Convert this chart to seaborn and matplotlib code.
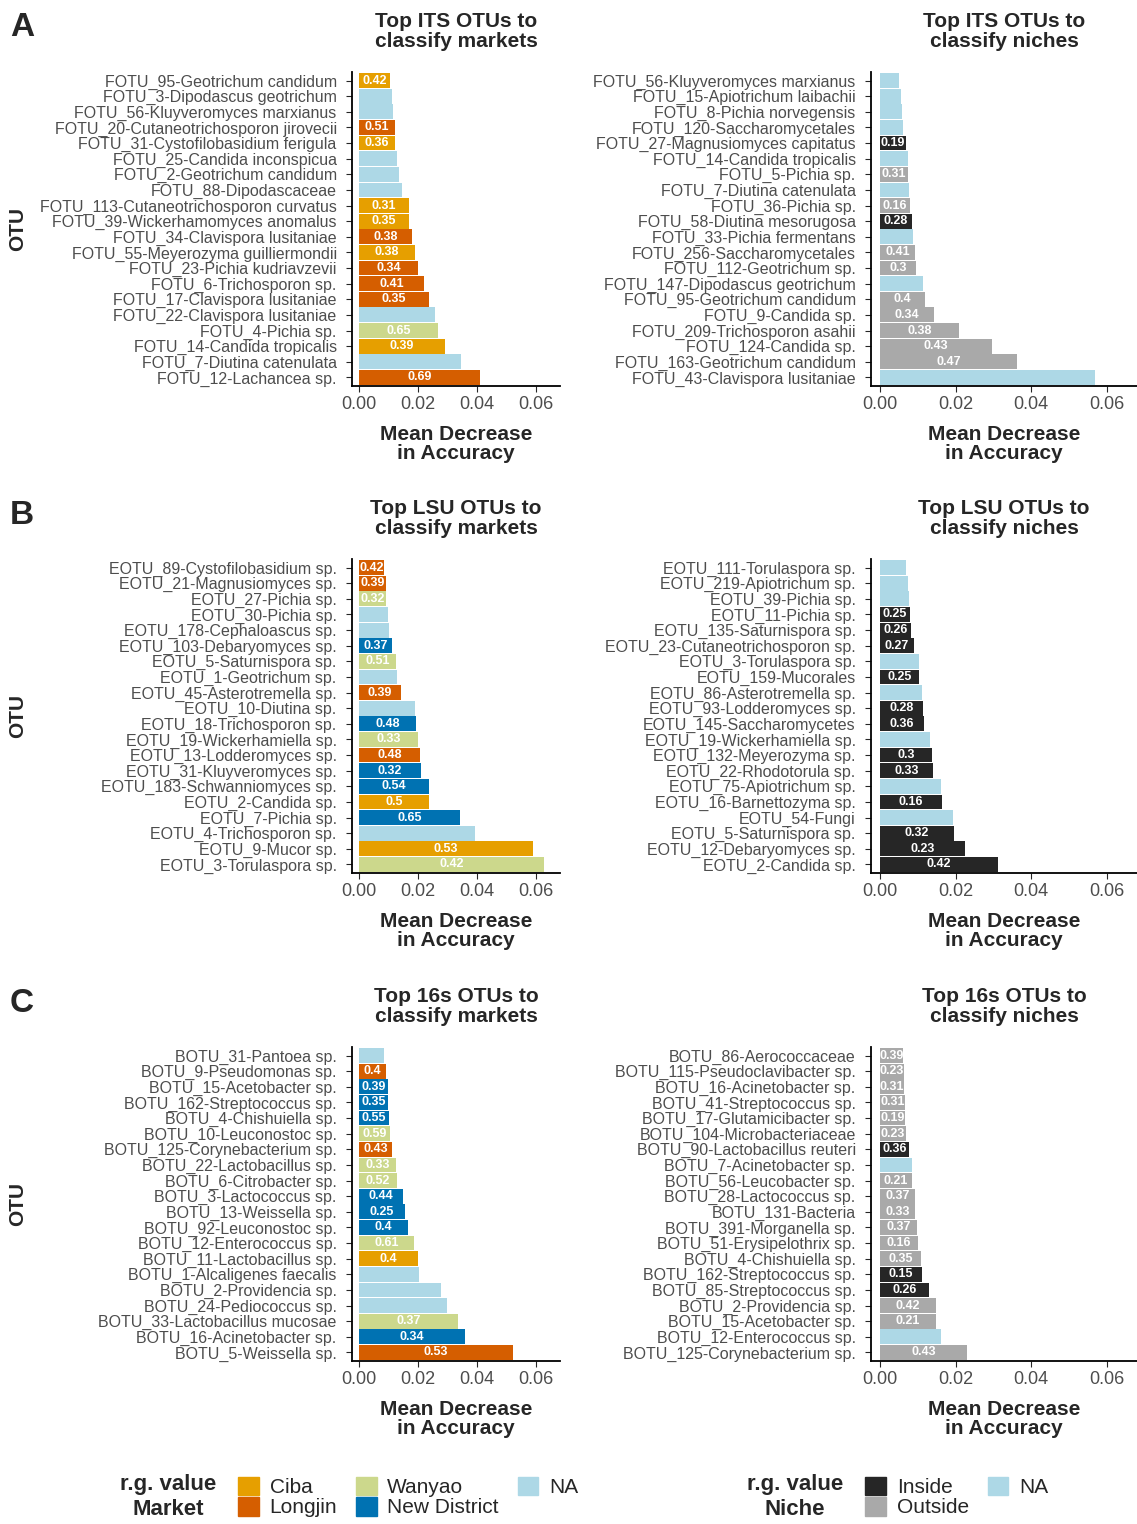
import numpy as np
import pandas as pd
import matplotlib
matplotlib.use("Agg")
import matplotlib.pyplot as plt
import seaborn as sns
from matplotlib.patches import Patch

sns.set_style("ticks")
plt.rcParams['font.family'] = ['Liberation Sans', 'DejaVu Sans']

market_colors = {'Ciba': '#E69F00', 'Longjin': '#D55E00', 'Wanyao': '#CCD88C',
                 'New District': '#0072B2', 'NA': '#ADD8E6'}
niche_colors = {'Inside': '#262626', 'Outside': '#A9A9A9', 'NA': '#ADD8E6'}

# ---- ITS markets
its_mk_otu = ['FOTU_95-Geotrichum candidum', 'FOTU_3-Dipodascus geotrichum', 'FOTU_56-Kluyveromyces marxianus',
              'FOTU_20-Cutaneotrichosporon jirovecii', 'FOTU_31-Cystofilobasidium ferigula', 'FOTU_25-Candida inconspicua',
              'FOTU_2-Geotrichum candidum', 'FOTU_88-Dipodascaceae', 'FOTU_113-Cutaneotrichosporon curvatus',
              'FOTU_39-Wickerhamomyces anomalus', 'FOTU_34-Clavispora lusitaniae', 'FOTU_55-Meyerozyma guilliermondii',
              'FOTU_23-Pichia kudriavzevii', 'FOTU_6-Trichosporon sp.', 'FOTU_17-Clavispora lusitaniae',
              'FOTU_22-Clavispora lusitaniae', 'FOTU_4-Pichia sp.', 'FOTU_14-Candida tropicalis',
              'FOTU_7-Diutina catenulata', 'FOTU_12-Lachancea sp.']
its_mk_val = [0.0105, 0.011, 0.0115, 0.012, 0.012, 0.013, 0.0135, 0.0145, 0.017, 0.017,
              0.018, 0.019, 0.020, 0.022, 0.0237, 0.0258, 0.0268, 0.029, 0.0346, 0.041]
its_mk_grp = ['Ciba', 'NA', 'NA', 'Longjin', 'Ciba', 'NA', 'NA', 'NA', 'Ciba', 'Ciba',
              'Longjin', 'Ciba', 'Longjin', 'Longjin', 'Longjin', 'NA', 'Wanyao', 'Ciba', 'NA', 'Longjin']
its_mk_rg = [0.42, None, None, 0.51, 0.36, None, None, None, 0.31, 0.35,
             0.38, 0.38, 0.34, 0.41, 0.35, None, 0.65, 0.39, None, 0.69]

# ---- ITS niches
its_ni_otu = ['FOTU_56-Kluyveromyces marxianus', 'FOTU_15-Apiotrichum laibachii', 'FOTU_8-Pichia norvegensis',
              'FOTU_120-Saccharomycetales', 'FOTU_27-Magnusiomyces capitatus', 'FOTU_14-Candida tropicalis',
              'FOTU_5-Pichia sp.', 'FOTU_7-Diutina catenulata', 'FOTU_36-Pichia sp.', 'FOTU_58-Diutina mesorugosa',
              'FOTU_33-Pichia fermentans', 'FOTU_256-Saccharomycetales', 'FOTU_112-Geotrichum sp.',
              'FOTU_147-Dipodascus geotrichum', 'FOTU_95-Geotrichum candidum', 'FOTU_9-Candida sp.',
              'FOTU_209-Trichosporon asahii', 'FOTU_124-Candida sp.', 'FOTU_163-Geotrichum candidum',
              'FOTU_43-Clavispora lusitaniae']
its_ni_val = [0.005, 0.0055, 0.0058, 0.006, 0.0068, 0.0074, 0.0074, 0.0076, 0.0079, 0.0084,
              0.0087, 0.0092, 0.0095, 0.0113, 0.0118, 0.0142, 0.021, 0.0297, 0.0363, 0.0568]
its_ni_grp = ['NA', 'NA', 'NA', 'NA', 'Inside', 'NA', 'Outside', 'NA', 'Outside', 'Inside',
              'NA', 'Outside', 'Outside', 'NA', 'Outside', 'Outside', 'Outside', 'Outside', 'Outside', 'NA']
its_ni_rg = [None, None, None, None, 0.19, None, 0.31, None, 0.16, 0.28,
             None, 0.41, 0.3, None, 0.4, 0.34, 0.38, 0.43, 0.47, None]

# ---- LSU markets
lsu_mk_otu = ['EOTU_89-Cystofilobasidium sp.', 'EOTU_21-Magnusiomyces sp.', 'EOTU_27-Pichia sp.', 'EOTU_30-Pichia sp.',
              'EOTU_178-Cephaloascus sp.', 'EOTU_103-Debaryomyces sp.', 'EOTU_5-Saturnispora sp.',
              'EOTU_1-Geotrichum sp.', 'EOTU_45-Asterotremella sp.', 'EOTU_10-Diutina sp.', 'EOTU_18-Trichosporon sp.',
              'EOTU_19-Wickerhamiella sp.', 'EOTU_13-Lodderomyces sp.', 'EOTU_31-Kluyveromyces sp.',
              'EOTU_183-Schwanniomyces sp.', 'EOTU_2-Candida sp.', 'EOTU_7-Pichia sp.', 'EOTU_4-Trichosporon sp.',
              'EOTU_9-Mucor sp.', 'EOTU_3-Torulaspora sp.']
lsu_mk_val = [0.0085, 0.009, 0.009, 0.0098, 0.010, 0.011, 0.0125, 0.013, 0.0142, 0.019,
              0.0193, 0.020, 0.0207, 0.021, 0.0237, 0.0237, 0.0342, 0.0393, 0.059, 0.0627]
lsu_mk_grp = ['Longjin', 'Longjin', 'Wanyao', 'NA', 'NA', 'New District', 'Wanyao', 'NA', 'Longjin', 'NA',
              'New District', 'Wanyao', 'Longjin', 'New District', 'New District', 'Ciba', 'New District', 'NA',
              'Ciba', 'Wanyao']
lsu_mk_rg = [0.42, 0.39, 0.32, None, None, 0.37, 0.51, None, 0.39, None,
             0.48, 0.33, 0.48, 0.32, 0.54, 0.5, 0.65, None, 0.53, 0.42]

# ---- LSU niches
lsu_ni_otu = ['EOTU_111-Torulaspora sp.', 'EOTU_219-Apiotrichum sp.', 'EOTU_39-Pichia sp.', 'EOTU_11-Pichia sp.',
              'EOTU_135-Saturnispora sp.', 'EOTU_23-Cutaneotrichosporon sp.', 'EOTU_3-Torulaspora sp.',
              'EOTU_159-Mucorales', 'EOTU_86-Asterotremella sp.', 'EOTU_93-Lodderomyces sp.',
              'EOTU_145-Saccharomycetes', 'EOTU_19-Wickerhamiella sp.', 'EOTU_132-Meyerozyma sp.',
              'EOTU_22-Rhodotorula sp.', 'EOTU_75-Apiotrichum sp.', 'EOTU_16-Barnettozyma sp.', 'EOTU_54-Fungi',
              'EOTU_5-Saturnispora sp.', 'EOTU_12-Debaryomyces sp.', 'EOTU_2-Candida sp.']
lsu_ni_val = [0.0068, 0.0074, 0.0076, 0.0079, 0.0082, 0.0089, 0.0103, 0.0103, 0.0111, 0.0113,
              0.0116, 0.0132, 0.0137, 0.014, 0.016, 0.0163, 0.0192, 0.0195, 0.0226, 0.0313]
lsu_ni_grp = ['NA', 'NA', 'NA', 'Inside', 'Inside', 'Inside', 'NA', 'Inside', 'NA', 'Inside',
              'Inside', 'NA', 'Inside', 'Inside', 'NA', 'Inside', 'NA', 'Inside', 'Inside', 'Inside']
lsu_ni_rg = [None, None, None, 0.25, 0.26, 0.27, None, 0.25, None, 0.28,
             0.36, None, 0.3, 0.33, None, 0.16, None, 0.32, 0.23, 0.42]

# ---- 16s markets
s16_mk_otu = ['BOTU_31-Pantoea sp.', 'BOTU_9-Pseudomonas sp.', 'BOTU_15-Acetobacter sp.', 'BOTU_162-Streptococcus sp.',
              'BOTU_4-Chishuiella sp.', 'BOTU_10-Leuconostoc sp.', 'BOTU_125-Corynebacterium sp.',
              'BOTU_22-Lactobacillus sp.', 'BOTU_6-Citrobacter sp.', 'BOTU_3-Lactococcus sp.',
              'BOTU_13-Weissella sp.', 'BOTU_92-Leuconostoc sp.', 'BOTU_12-Enterococcus sp.',
              'BOTU_11-Lactobacillus sp.', 'BOTU_1-Alcaligenes faecalis', 'BOTU_2-Providencia sp.',
              'BOTU_24-Pediococcus sp.', 'BOTU_33-Lactobacillus mucosae', 'BOTU_16-Acinetobacter sp.',
              'BOTU_5-Weissella sp.']
s16_mk_val = [0.0085, 0.009, 0.0098, 0.0098, 0.010, 0.0105, 0.011, 0.0125, 0.0129, 0.015,
              0.0156, 0.0166, 0.0186, 0.020, 0.0203, 0.0278, 0.0298, 0.0336, 0.036, 0.0522]
s16_mk_grp = ['NA', 'Longjin', 'New District', 'New District', 'New District', 'Wanyao', 'Longjin', 'Wanyao',
              'Wanyao', 'New District', 'New District', 'New District', 'Wanyao', 'Ciba', 'NA', 'NA', 'NA',
              'Wanyao', 'New District', 'Longjin']
s16_mk_rg = [None, 0.4, 0.39, 0.35, 0.55, 0.59, 0.43, 0.33, 0.52, 0.44,
             0.25, 0.4, 0.61, 0.4, None, None, None, 0.37, 0.34, 0.53]

# ---- 16s niches
s16_ni_otu = ['BOTU_86-Aerococcaceae', 'BOTU_115-Pseudoclavibacter sp.', 'BOTU_16-Acinetobacter sp.',
              'BOTU_41-Streptococcus sp.', 'BOTU_17-Glutamicibacter sp.', 'BOTU_104-Microbacteriaceae',
              'BOTU_90-Lactobacillus reuteri', 'BOTU_7-Acinetobacter sp.', 'BOTU_56-Leucobacter sp.',
              'BOTU_28-Lactococcus sp.', 'BOTU_131-Bacteria', 'BOTU_391-Morganella sp.',
              'BOTU_51-Erysipelothrix sp.', 'BOTU_4-Chishuiella sp.', 'BOTU_162-Streptococcus sp.',
              'BOTU_85-Streptococcus sp.', 'BOTU_2-Providencia sp.', 'BOTU_15-Acetobacter sp.',
              'BOTU_12-Enterococcus sp.', 'BOTU_125-Corynebacterium sp.']
s16_ni_val = [0.006, 0.0063, 0.0063, 0.0066, 0.0066, 0.0068, 0.0076, 0.0084, 0.0084, 0.0092,
              0.0092, 0.0097, 0.010, 0.0108, 0.0111, 0.0129, 0.0147, 0.0147, 0.016, 0.0231]
s16_ni_grp = ['Outside', 'Outside', 'Outside', 'Outside', 'Outside', 'Outside', 'Inside', 'NA', 'Outside',
              'Outside', 'Outside', 'Outside', 'Outside', 'Outside', 'Inside', 'Inside', 'Outside', 'Outside',
              'NA', 'Outside']
s16_ni_rg = [0.39, 0.23, 0.31, 0.31, 0.19, 0.23, 0.36, None, 0.21, 0.37,
             0.33, 0.37, 0.16, 0.35, 0.15, 0.26, 0.42, 0.21, None, 0.43]

panels = [
    ('ITS', 'markets', its_mk_otu, its_mk_val, its_mk_grp, its_mk_rg),
    ('ITS', 'niches', its_ni_otu, its_ni_val, its_ni_grp, its_ni_rg),
    ('LSU', 'markets', lsu_mk_otu, lsu_mk_val, lsu_mk_grp, lsu_mk_rg),
    ('LSU', 'niches', lsu_ni_otu, lsu_ni_val, lsu_ni_grp, lsu_ni_rg),
    ('16s', 'markets', s16_mk_otu, s16_mk_val, s16_mk_grp, s16_mk_rg),
    ('16s', 'niches', s16_ni_otu, s16_ni_val, s16_ni_grp, s16_ni_rg),
]

W, H = 1137, 1524
fig = plt.figure(figsize=(W / 100, H / 100), dpi=100)
row_tops = [72, 559, 1047]
ax_h = 314

for i, (gene, kind, otu, val, grp, rg) in enumerate(panels):
    row, col = divmod(i, 2)
    top = row_tops[row]
    if col == 0:
        x0, w = 352, 208
    else:
        x0, w = 871, 266
    ax = fig.add_axes([x0 / W, 1 - (top + ax_h) / H, w / W, ax_h / H])
    df = pd.DataFrame({'otu': otu, 'val': val, 'grp': grp})
    pal = market_colors if kind == 'markets' else niche_colors
    sns.barplot(data=df, x='val', y='otu', hue='grp', palette=pal, dodge=False,
                orient='h', width=0.95, ax=ax, legend=False, saturation=1, linewidth=0)
    for j, (v, r) in enumerate(zip(val, rg)):
        if r is not None:
            ax.text(v / 2, j, f"{r:g}", ha='center', va='center', color='white',
                    fontsize=9, fontweight='bold')
    ax.set_xlim(-0.0024, 0.068)
    ax.set_ylim(19.55, -0.55)
    ax.set_xticks([0, 0.02, 0.04, 0.06])
    ax.set_xticklabels(['0.00', '0.02', '0.04', '0.06'])
    ax.tick_params(axis='x', labelsize=13, length=4)
    ax.tick_params(axis='y', labelsize=11.5, length=4, pad=7)
    for lab in ax.get_xticklabels() + ax.get_yticklabels():
        lab.set_color('#4D4D4D')
    ax.set_xlabel('Mean Decrease\nin Accuracy', fontsize=15, fontweight='bold', linespacing=1.05, labelpad=8)
    ax.set_ylabel('')
    ax.set_title(f'Top {gene} OTUs to\nclassify {kind}', fontsize=15, fontweight='bold', linespacing=1.05, pad=18)
    sns.despine(ax=ax)
    for s in ['left', 'bottom']:
        ax.spines[s].set_linewidth(1.3)
        ax.spines[s].set_color('black')
    if col == 0:
        fig.text(18 / W, 1 - (top + ax_h / 2) / H, 'OTU', rotation=90, ha='center', va='center',
                 fontsize=15, fontweight='bold')
        fig.text(10 / W, 1 - (top - 44) / H, 'ABC'[row], ha='left', va='center',
                 fontsize=24, fontweight='bold')

# legends
mk_handles = [Patch(color=market_colors[k], label=k) for k in ['Ciba', 'Longjin', 'Wanyao', 'New District', 'NA']]
ni_handles = [Patch(color=niche_colors[k], label=k) for k in ['Inside', 'Outside', 'NA']]
ly = 1 - 1497 / H
fig.text(168 / W, ly, 'r.g. value\nMarket', ha='center', va='center', fontsize=16, fontweight='bold', linespacing=1.3)
fig.text(795 / W, ly, 'r.g. value\nNiche', ha='center', va='center', fontsize=16, fontweight='bold', linespacing=1.3)
fig.legend(handles=mk_handles, loc='center left', bbox_to_anchor=(228 / W, ly), ncol=3, frameon=False,
           fontsize=15, handlelength=1.0, handleheight=1.0, labelspacing=0.0, columnspacing=0.9,
           handletextpad=0.5, borderpad=0)
fig.legend(handles=ni_handles, loc='center left', bbox_to_anchor=(855 / W, ly), ncol=2, frameon=False,
           fontsize=15, handlelength=1.0, handleheight=1.0, labelspacing=0.0, columnspacing=0.9,
           handletextpad=0.5, borderpad=0)

fig.savefig('out.png', dpi=100)
